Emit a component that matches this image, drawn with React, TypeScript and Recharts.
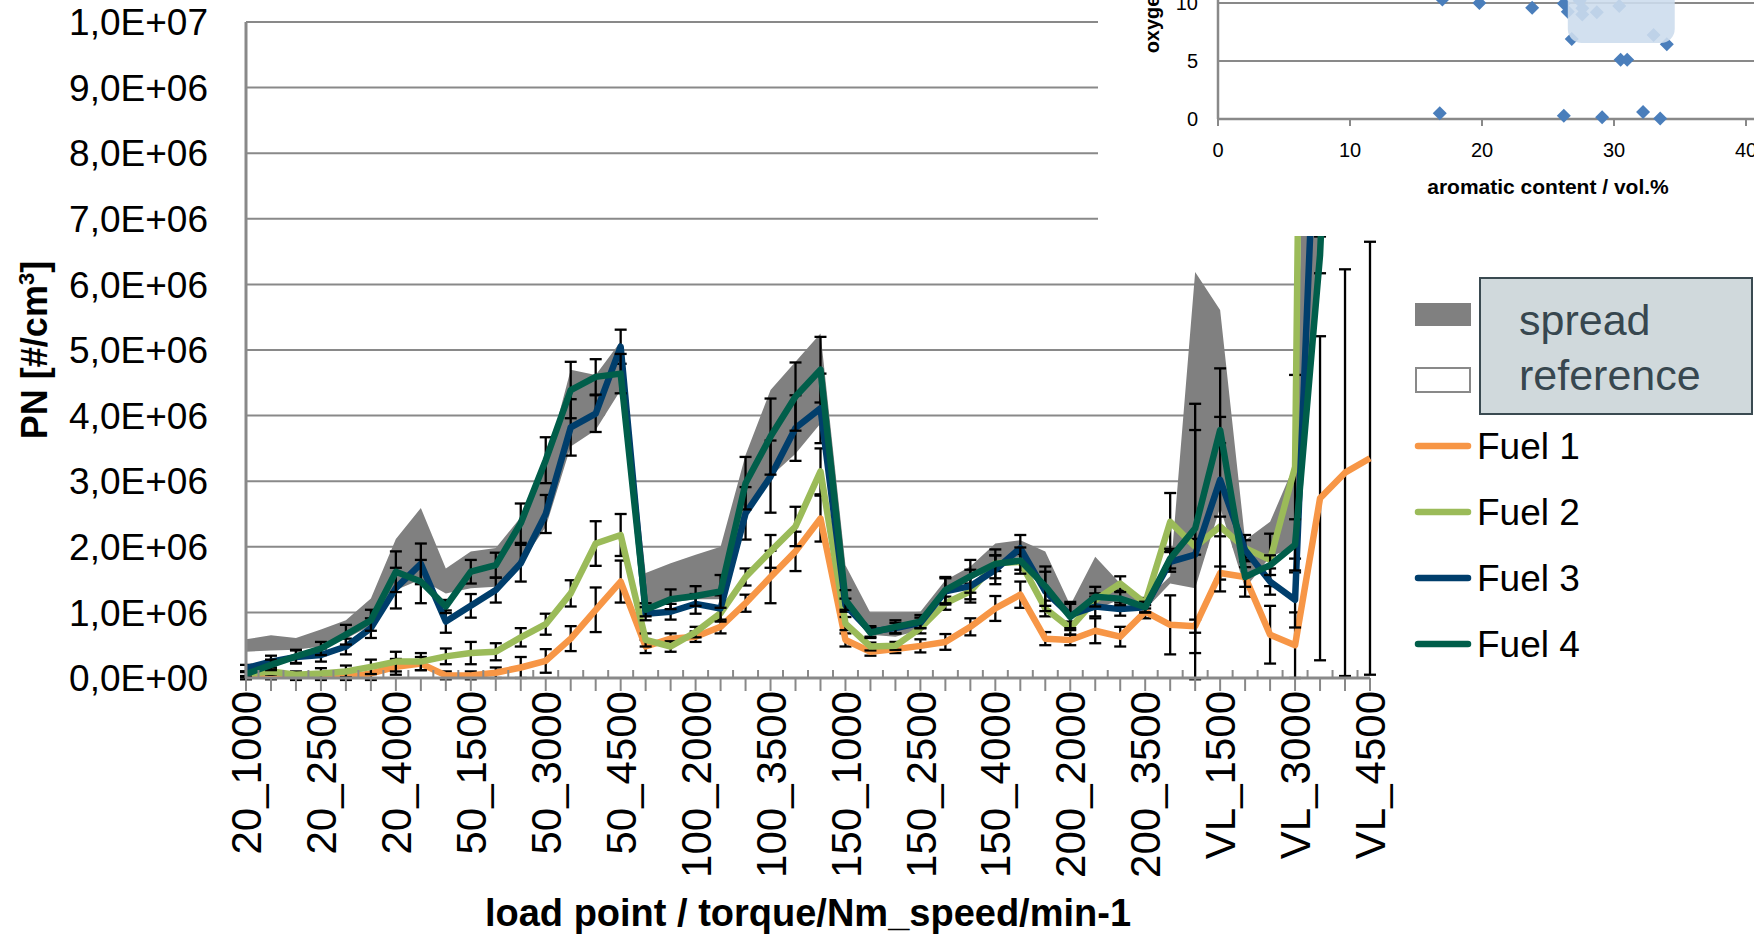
import {
  ComposedChart, Area, Line, ErrorBar, XAxis, YAxis, CartesianGrid, Legend,
  ScatterChart, Scatter, ReferenceArea,
} from "recharts"

// load point = torque/Nm _ speed/min-1, VL = full load
const LOAD_POINTS = [
  "20_1000", "20_1500", "20_2000", "20_2500", "20_3000", "20_3500", "20_4000", "20_4500",
  "50_1000", "50_1500", "50_2000", "50_2500", "50_3000", "50_3500", "50_4000", "50_4500",
  "100_1000", "100_1500", "100_2000", "100_2500", "100_3000", "100_3500", "100_4000", "100_4500",
  "150_1000", "150_1500", "150_2000", "150_2500", "150_3000", "150_3500", "150_4000",
  "200_1000", "200_1500", "200_2000", "200_2500", "200_3000", "200_3500", "200_4000",
  "VL_1000", "VL_1500", "VL_2000", "VL_2500", "VL_3000", "VL_3500", "VL_4000", "VL_4500",
]

// PN in 1e6 #/cm3
const FUEL1 = [
  0.00, 0.01, 0.00, 0.00, 0.01, 0.07, 0.17, 0.22,
  0.04, 0.04, 0.08, 0.16, 0.26, 0.60, 1.04, 1.47,
  0.48, 0.60, 0.63, 0.78, 1.14, 1.54, 1.93, 2.43,
  0.58, 0.40, 0.44, 0.49, 0.55, 0.78, 1.06,
  1.27, 0.60, 0.58, 0.72, 0.63, 1.01, 0.81,
  0.79, 1.60, 1.54, 0.66, 0.50, 2.74, 3.13, 3.35,
]
const FUEL2 = [
  0.06, 0.10, 0.05, 0.07, 0.10, 0.17, 0.25, 0.25,
  0.33, 0.38, 0.40, 0.62, 0.82, 1.29, 2.05, 2.18,
  0.58, 0.48, 0.70, 0.99, 1.54, 1.93, 2.31, 3.15,
  0.83, 0.48, 0.49, 0.76, 1.14, 1.32, 1.75,
  1.77, 1.06, 0.76, 1.19, 1.44, 1.14, 2.38,
  2.00, 2.31, 1.98, 1.80, 3.22, 36.0, 38.0, 40.0,
]
const FUEL3 = [
  0.15, 0.25, 0.32, 0.35, 0.48, 0.76, 1.37, 1.74,
  0.86, 1.10, 1.34, 1.75, 2.50, 3.82, 4.03, 5.05,
  0.98, 1.01, 1.13, 1.06, 2.51, 3.07, 3.81, 4.11,
  1.11, 0.71, 0.76, 0.84, 1.32, 1.40, 1.65,
  1.98, 1.32, 0.96, 1.09, 1.05, 1.08, 1.77,
  1.88, 3.02, 1.95, 1.47, 1.19, 10.4, 14.0, 16.0,
]
const FUEL4 = [
  0.06, 0.20, 0.33, 0.45, 0.66, 0.88, 1.62, 1.47,
  1.09, 1.62, 1.72, 2.36, 3.32, 4.39, 4.59, 4.64,
  1.04, 1.20, 1.25, 1.32, 2.97, 3.68, 4.29, 4.70,
  1.19, 0.69, 0.78, 0.86, 1.34, 1.55, 1.74,
  1.79, 1.40, 0.93, 1.24, 1.21, 1.08, 1.82,
  2.28, 3.78, 1.54, 1.72, 2.03, 6.45, 15.0, 18.0,
]

// +/- standard deviation per fuel
const ERR1 = [
  0.02, 0.03, 0.03, 0.03, 0.04, 0.10, 0.12, 0.10,
  0.06, 0.06, 0.08, 0.16, 0.18, 0.19, 0.34, 0.32,
  0.10, 0.08, 0.08, 0.10, 0.13, 0.40, 0.30, 0.35,
  0.10, 0.06, 0.06, 0.10, 0.12, 0.13, 0.19,
  0.20, 0.10, 0.08, 0.19, 0.15, 0.10, 0.45,
  0.10, 0.10, 0.30, 0.44, 0.50, 2.47, 3.10, 3.30,
]
const ERR2 = [
  0.03, 0.05, 0.05, 0.08, 0.09, 0.11, 0.15, 0.13,
  0.12, 0.17, 0.13, 0.14, 0.16, 0.20, 0.34, 0.32,
  0.10, 0.08, 0.08, 0.10, 0.13, 0.25, 0.30, 0.35,
  0.10, 0.06, 0.06, 0.08, 0.10, 0.12, 0.12,
  0.12, 0.12, 0.10, 0.10, 0.11, 0.08, 0.44,
  0.12, 0.15, 0.20, 0.40, 1.40, 0, 0, 0,
]
const ERR3 = [
  0.05, 0.09, 0.10, 0.10, 0.12, 0.15, 0.31, 0.31,
  0.17, 0.18, 0.19, 0.28, 0.29, 0.43, 0.28, 0.26,
  0.10, 0.12, 0.15, 0.20, 0.40, 0.55, 0.50, 0.53,
  0.10, 0.08, 0.08, 0.08, 0.20, 0.25, 0.22,
  0.20, 0.30, 0.20, 0.15, 0.10, 0.08, 0.15,
  1.90, 1.70, 0.15, 0.20, 0.42, 0, 0, 0,
]
const ERR4 = [
  0.04, 0.08, 0.10, 0.10, 0.15, 0.16, 0.31, 0.33,
  0.10, 0.18, 0.19, 0.30, 0.35, 0.43, 0.27, 0.30,
  0.10, 0.15, 0.15, 0.25, 0.40, 0.58, 0.52, 0.50,
  0.15, 0.08, 0.10, 0.10, 0.20, 0.25, 0.22,
  0.20, 0.30, 0.20, 0.15, 0.10, 0.08, 0.15,
  1.90, 0.20, 0.15, 0.15, 0.39, 0.28, 0, 0,
]

// spread of the reference fuel (min / max)
const BAND_MIN = [
  0.40, 0.42, 0.43, 0.48, 0.60, 0.80, 1.34, 1.50,
  1.29, 1.37, 1.39, 1.75, 2.30, 3.53, 3.78, 4.39,
  1.05, 1.15, 1.20, 1.20, 2.56, 3.07, 3.42, 3.88,
  1.09, 0.66, 0.63, 0.73, 1.29, 1.49, 1.75,
  1.85, 1.37, 0.93, 1.04, 1.20, 1.04, 1.44,
  1.37, 2.60, 1.37, 1.85, 2.00, 6.10, 10.9, 12.0,
]
const BAND_MAX = [
  0.59, 0.65, 0.61, 0.74, 0.88, 1.21, 2.12, 2.59,
  1.67, 1.93, 1.98, 2.45, 3.25, 4.70, 4.62, 5.13,
  1.60, 1.75, 1.88, 2.00, 3.40, 4.39, 4.82, 5.25,
  1.72, 0.99, 0.99, 1.01, 1.49, 1.70, 2.05,
  2.10, 1.93, 1.11, 1.85, 1.44, 1.19, 1.55,
  6.19, 5.61, 2.10, 2.38, 3.27, 18.0, 20.0, 22.0,
]

const Y_TICKS = [0, 1, 2, 3, 4, 5, 6, 7, 8, 9, 10]

// fuel matrix: aromatic content vs oxygen content
const AROMATICS = [17.0, 19.8, 23.8, 26.2, 26.5, 26.8, 27.4, 27.6, 27.6, 28.7, 30.4, 33.0, 34.0, 30.5, 31.0, 16.8, 26.2, 29.1, 32.2, 33.5]
const OXYGEN = [10.3, 10.0, 9.6, 9.95, 9.25, 6.9, 10.2, 9.55, 9.0, 9.2, 9.75, 7.25, 6.45, 5.1, 5.1, 0.5, 0.27, 0.15, 0.6, 0.05]
const HIGHLIGHT = { x1: 26.5, x2: 34.6, y1: 6.55, y2: 14 }

const FONT = '"Liberation Sans", Arial, sans-serif'
const GRID = "#898989"

const FUELS = [
  { key: "fuel1", err: "e1", name: "Fuel 1", color: "#F79646" },
  { key: "fuel2", err: "e2", name: "Fuel 2", color: "#9BBB59" },
  { key: "fuel3", err: "e3", name: "Fuel 3", color: "#003E6C" },
  { key: "fuel4", err: "e4", name: "Fuel 4", color: "#005E4A" },
]

const rows = LOAD_POINTS.map((lp, i) => ({
  lp,
  reference: BAND_MIN[i],
  spread: BAND_MAX[i] - BAND_MIN[i],
  fuel1: FUEL1[i], e1: ERR1[i],
  fuel2: FUEL2[i], e2: ERR2[i],
  fuel3: FUEL3[i], e3: ERR3[i],
  fuel4: FUEL4[i], e4: ERR4[i],
}))

const insetRows = AROMATICS.map((a, i) => ({ aromatics: a, oxygen: OXYGEN[i] }))

const W = 1754
const H = 937
const PLOT_LEFT = 246
const PLOT_RIGHT = 1370
const X_TICK_LEN = 13
const HALF_STEP = (PLOT_RIGHT - PLOT_LEFT) / (LOAD_POINTS.length - 1) / 2

function fmtPN(v: number) {
  const n = v * 1e6
  if (n === 0) return "0,0E+00"
  const e = Math.floor(Math.log10(n) + 1e-9)
  const m = n / 10 ** e
  return `${m.toFixed(1).replace(".", ",")}E+${String(e).padStart(2, "0")}`
}

function LoadPointTick(props: any) {
  const { x, y, payload, index } = props
  const axisY = y - X_TICK_LEN
  return (
    <g>
      {index < LOAD_POINTS.length - 1 && (
        <line x1={x + HALF_STEP} x2={x + HALF_STEP} y1={axisY} y2={axisY - 8} stroke={GRID} strokeWidth={2} />
      )}
      {index % 3 === 0 && (
        <text
          x={x} y={y} dy="0.36em"
          transform={`rotate(-90 ${x} ${y})`}
          textAnchor="end" fontSize={42} fontFamily={FONT} fill="#000"
        >
          {payload.value}
        </text>
      )}
    </g>
  )
}

const LEGEND_ORDER = ["spread", "reference", "fuel1", "fuel2", "fuel3", "fuel4"]

function PnLegend({ payload }: { payload?: any[] }) {
  const items = [...(payload ?? [])].sort(
    (a, b) => LEGEND_ORDER.indexOf(a.dataKey) - LEGEND_ORDER.indexOf(b.dataKey),
  )
  const nameOf = (k: string) => items.find((it) => it.dataKey === k)?.value ?? k
  return (
    <svg width={344} height={400} style={{ display: "block", overflow: "visible" }}>
      {items.map((it, i) => {
        const cy = 44 + i * 66
        if (it.dataKey === "spread") {
          return <rect key={it.dataKey} x={5} y={cy - 11} width={56} height={23} fill="#808080" />
        }
        if (it.dataKey === "reference") {
          return <rect key={it.dataKey} x={6} y={cy - 12} width={54} height={24} fill="#fff" stroke={GRID} strokeWidth={2} />
        }
        return (
          <g key={it.dataKey}>
            <line x1={8} x2={58} y1={cy} y2={cy} stroke={it.color} strokeWidth={6.5} strokeLinecap="round" />
            <text x={67} y={cy} dominantBaseline="central" fontSize={37} fontFamily={FONT} fill="#000">
              {it.value}
            </text>
          </g>
        )
      })}
      <rect x={70} y={8} width={272} height={136} fill="#D0D9DC" stroke="#3A4A51" strokeWidth={2} />
      <text x={109} y={65} fontSize={43} fontFamily={FONT} fill="#37474F">{nameOf("spread")}</text>
      <text x={109} y={120} fontSize={43} fontFamily={FONT} fill="#37474F">{nameOf("reference")}</text>
    </svg>
  )
}

function Diamond(p: any) {
  const { cx, cy } = p
  const r = 7
  return <path d={`M${cx},${cy - r}L${cx + r},${cy}L${cx},${cy + r}L${cx - r},${cy}Z`} fill="#4A7EBB" />
}

function FuelMatrixInset() {
  return (
    <div style={{ position: "absolute", left: 1098, top: 0, width: 656, height: 236, background: "#fff", overflow: "hidden" }}>
      <div style={{ position: "absolute", left: 0, top: -229 }}>
        <ScatterChart width={780} height={465} margin={{ top: 0, right: 0, bottom: 0, left: 0 }}>
          <CartesianGrid vertical={false} stroke={GRID} strokeWidth={2} />
          <XAxis
            type="number" dataKey="aromatics" domain={[0, 50]} ticks={[0, 10, 20, 30, 40, 50]}
            height={117} tickSize={7} tickMargin={17}
            tickLine={{ stroke: GRID, strokeWidth: 2 }}
            axisLine={{ stroke: GRID, strokeWidth: 2.5 }}
            tick={{ fontSize: 20, fill: "#000", fontFamily: FONT }}
            label={(p: any) => {
              const vb = p.viewBox
              return (
                <text x={vb.x + vb.width / 2} y={vb.y + 75} textAnchor="middle" fontSize={21} fontWeight="bold" fontFamily={FONT} fill="#000">
                  aromatic content / vol.%
                </text>
              )
            }}
          />
          <YAxis
            type="number" dataKey="oxygen" domain={[0, 30]} ticks={[0, 5, 10, 15, 20, 25, 30]}
            width={120} tickLine={false} tickSize={0} tickMargin={20}
            axisLine={{ stroke: GRID, strokeWidth: 2.5 }}
            tick={{ fontSize: 20, fill: "#000", fontFamily: FONT }}
            label={(p: any) => {
              const vb = p.viewBox
              const cx = vb.x + 54
              const cy = vb.y + vb.height / 2
              return (
                <text
                  x={cx} y={cy} transform={`rotate(-90 ${cx} ${cy})`} dy="0.35em"
                  textAnchor="middle" fontSize={20} fontWeight="bold" fontFamily={FONT} fill="#000"
                >
                  oxygen content / vol.%
                </text>
              )
            }}
          />
          <Scatter data={insetRows} shape={Diamond} fill="#4A7EBB" isAnimationActive={false} />
          <ReferenceArea
            {...HIGHLIGHT}
            zIndex={700}
            shape={(p: any) => (
              <rect x={p.x} y={p.y} width={p.width} height={p.height} rx={14} fill="#CDDCED" fillOpacity={0.89} />
            )}
          />
        </ScatterChart>
      </div>
    </div>
  )
}

export default function App() {
  return (
    <div style={{ position: "absolute", left: 0, top: 0, width: W, height: H, background: "#fff", fontFamily: FONT }}>
      <ComposedChart width={W} height={H} data={rows} margin={{ top: 22, right: W - PLOT_RIGHT, bottom: 0, left: 0 }}>
        <CartesianGrid vertical={false} stroke={GRID} strokeWidth={2} />
        <Area
          dataKey="reference" name="reference" stackId="band" type="linear"
          fill="#ffffff" fillOpacity={1} stroke="none" legendType="rect" isAnimationActive={false}
        />
        <Area
          dataKey="spread" name="spread" stackId="band" type="linear"
          fill="#808080" fillOpacity={1} stroke="none" legendType="rect" isAnimationActive={false}
        />
        {FUELS.map((f) => (
          <Line
            key={f.key} dataKey={f.key} name={f.name} type="linear"
            stroke={f.color} strokeWidth={6.5} strokeLinejoin="round"
            dot={false} activeDot={false} isAnimationActive={false}
          >
            <ErrorBar dataKey={f.err} width={6} stroke="#000" strokeWidth={2.3} />
          </Line>
        ))}
        <XAxis
          dataKey="lp" scale="point" interval={0} height={H - 678}
          tickSize={X_TICK_LEN} tickMargin={0}
          tickLine={{ stroke: GRID, strokeWidth: 2 }}
          axisLine={{ stroke: GRID, strokeWidth: 3 }}
          tick={(p: any) => <LoadPointTick {...p} />}
          label={(p: any) => {
            const vb = p.viewBox
            return (
              <text x={vb.x + vb.width / 2} y={vb.y + 248} textAnchor="middle" fontSize={38} fontWeight="bold" fontFamily={FONT} fill="#000">
                load point / torque/Nm_speed/min-1
              </text>
            )
          }}
        />
        <YAxis
          domain={[0, 10]} ticks={Y_TICKS} allowDataOverflow width={PLOT_LEFT}
          tickLine={false} tickSize={0} tickMargin={38}
          axisLine={{ stroke: GRID, strokeWidth: 3 }}
          tickFormatter={fmtPN}
          tick={{ fontSize: 37, fill: "#000", fontFamily: FONT }}
          label={(p: any) => {
            const vb = p.viewBox
            const cx = vb.x + 34
            const cy = vb.y + vb.height / 2
            return (
              <text
                x={cx} y={cy} transform={`rotate(-90 ${cx} ${cy})`} dy="0.35em"
                textAnchor="middle" fontSize={36} fontWeight="bold" fontFamily={FONT} fill="#000"
              >
                PN [#/cm<tspan dy={-13} fontSize={22}>3</tspan><tspan dy={13}>]</tspan>
              </text>
            )
          }}
        />
        <Legend
          layout="vertical" align="center" verticalAlign="middle"
          wrapperStyle={{ left: 1410, top: 270, width: 344, height: 400 }}
          content={(p: any) => <PnLegend payload={p.payload} />}
        />
      </ComposedChart>
      <FuelMatrixInset />
    </div>
  )
}
